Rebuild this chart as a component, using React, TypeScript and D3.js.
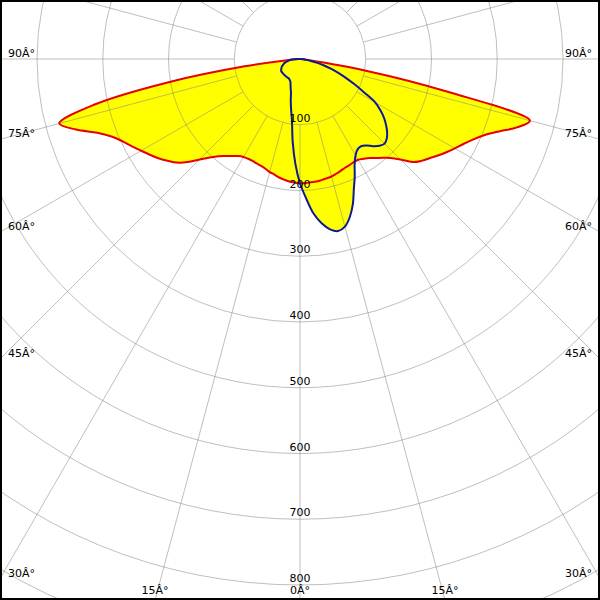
import React from "react";
import * as d3 from "d3";

// Gamma angles (deg) shared by all half-planes
const gammaAngles = [0, 2.5, 5, 7.5, 10, 12.5, 15, 17.5, 20, 22.5, 25, 27.5, 30, 32.5, 35, 37.5, 40, 42.5, 45, 47.5, 50, 52.5, 55, 57.5, 60, 62.5, 65, 67.5, 70, 72.5, 75, 77.5, 80, 82.5, 85, 87.5, 90];

// C0-C180 plane (red)
const redLeft = [189, 188, 187, 185, 183, 180, 178, 175, 173, 172, 171, 171, 172, 175, 180, 186, 193, 203, 216, 232, 245, 254, 263, 271, 279, 288, 297, 309, 328, 357, 379, 320, 203, 85, 20, 4, 0];
const redRight = [189, 189, 188, 188, 187, 186, 185, 183, 181, 179, 178, 177, 177, 180, 184, 190, 196, 204, 216, 232, 241, 248, 256, 264, 272, 280, 290, 303, 322, 346, 362, 230, 100, 12, 2, 0, 0];

// C90-C270 plane (blue)
const blueLeft = [189, 160, 127, 94, 78, 65, 53, 47, 42, 38, 36, 35, 34, 34, 34, 34, 34, 34, 34, 34, 34, 34, 34, 34, 33, 32, 31, 30, 28, 26, 25, 22, 20, 17, 14, 8, 0];
const blueRight = [189, 212, 236, 252, 263, 268, 264, 252, 235, 214, 197, 180, 169, 163, 162, 166, 173, 179, 182, 179, 173, 165, 156, 145, 132, 110, 92, 76, 62, 50, 38, 27, 17, 10, 5, 2, 0];

const ringValues = [100, 200, 300, 400, 500, 600, 700, 800, 900, 1000];
const ringLabels = ["100", "200", "300", "400", "500", "600", "700", "800"];
const spokeAngles = [0, 15, 30, 45, 60, 75, 90, 105, 120, 135, 150, 165, 180];
const angleLabelAngles = [0, 15, 30, 45, 60, 75, 90];
const angleLabelText = ["0Â°", "15Â°", "30Â°", "45Â°", "60Â°", "75Â°", "90Â°"];

const W = 600;
const H = 600;
const cx = 300;
const cy = 59;
const FONT = "'DejaVu Sans', sans-serif";

export default function App() {
  const r = d3.scaleLinear().domain([0, 800]).range([0, 526]);
  const toRad = (g: number) => Math.PI - (g * Math.PI) / 180;

  const buildPoints = (left: number[], right: number[]) => {
    const pts: [number, number][] = [];
    for (let i = gammaAngles.length - 1; i >= 1; i--) pts.push([-gammaAngles[i], left[i]]);
    for (let i = 0; i < gammaAngles.length - 1; i++) pts.push([gammaAngles[i], right[i]]);
    return pts;
  };

  const line = d3
    .lineRadial<[number, number]>()
    .angle((d) => toRad(d[0]))
    .radius((d) => r(d[1]))
    .curve(d3.curveCatmullRomClosed.alpha(0.5));

  const redPath = line(buildPoints(redLeft, redRight)) || "";
  const bluePath = line(buildPoints(blueLeft, blueRight)) || "";

  const spokes: { a: number; s: number }[] = [];
  spokeAngles.forEach((a) => {
    spokes.push({ a, s: 1 });
    if (a !== 0 && a !== 180) spokes.push({ a, s: -1 });
  });

  const rMax = r(1200);

  // angle labels at the frame
  const angleLabels: { x: number; y: number; anchor: string; text: string }[] = [];
  angleLabelAngles.forEach((a, i) => {
    const sides = a === 0 ? [1] : [-1, 1];
    sides.forEach((s) => {
      const rad = (a * Math.PI) / 180;
      const dx = Math.sin(rad) * s;
      const dy = Math.cos(rad);
      let tSide = Infinity;
      if (Math.abs(dx) > 1e-9) tSide = (s < 0 ? cx : W - cx) / Math.abs(dx);
      const tBottom = dy > 1e-9 ? (H - cy) / dy : Infinity;
      if (tSide < tBottom) {
        const yInt = cy + dy * tSide;
        angleLabels.push({ x: s < 0 ? 8 : W - 8, y: yInt - 2, anchor: s < 0 ? "start" : "end", text: angleLabelText[i] });
      } else {
        const xInt = cx + dx * tBottom;
        angleLabels.push({ x: xInt, y: H - 6, anchor: "middle", text: angleLabelText[i] });
      }
    });
  });

  return (
    <svg width={W} height={H} style={{ position: "absolute", left: 0, top: 0, display: "block", background: "#fff" }}>
      <rect x={0} y={0} width={W} height={H} fill="#ffffff" />
      <g transform={`translate(${cx},${cy})`}>
        <path d={redPath} fill="#ffff00" stroke="none" />
        <path d={bluePath} fill="#ffff00" stroke="none" />
      </g>
      <g transform={`translate(${cx},${cy})`} stroke="#808080" strokeOpacity={0.5} fill="none" strokeWidth={1}>
        {ringValues.map((v) => (
          <circle key={v} r={r(v)} />
        ))}
        {spokes.map(({ a, s }, i) => {
          const rad = (a * Math.PI) / 180;
          const dx = Math.sin(rad) * s;
          const dy = Math.cos(rad);
          return <line key={i} x1={dx * r(100)} y1={dy * r(100)} x2={dx * rMax} y2={dy * rMax} />;
        })}
      </g>
      <g transform={`translate(${cx},${cy})`} fill="none" strokeWidth={2} strokeLinejoin="round">
        <path d={redPath} stroke="#e80000" />
        <path d={bluePath} stroke="#0c1a96" />
      </g>
      <g fontFamily={FONT} fontSize={11} fill="#000">
        {ringLabels.map((t, i) => (
          <text key={t} x={cx} y={cy + r(ringValues[i]) - 3} textAnchor="middle">
            {t}
          </text>
        ))}
        {angleLabels.map((l, i) => (
          <text key={i} x={l.x} y={l.y} textAnchor={l.anchor as any}>
            {l.text}
          </text>
        ))}
      </g>
      <rect x={1} y={1} width={W - 2} height={H - 2} fill="none" stroke="#000" strokeWidth={2} />
    </svg>
  );
}
